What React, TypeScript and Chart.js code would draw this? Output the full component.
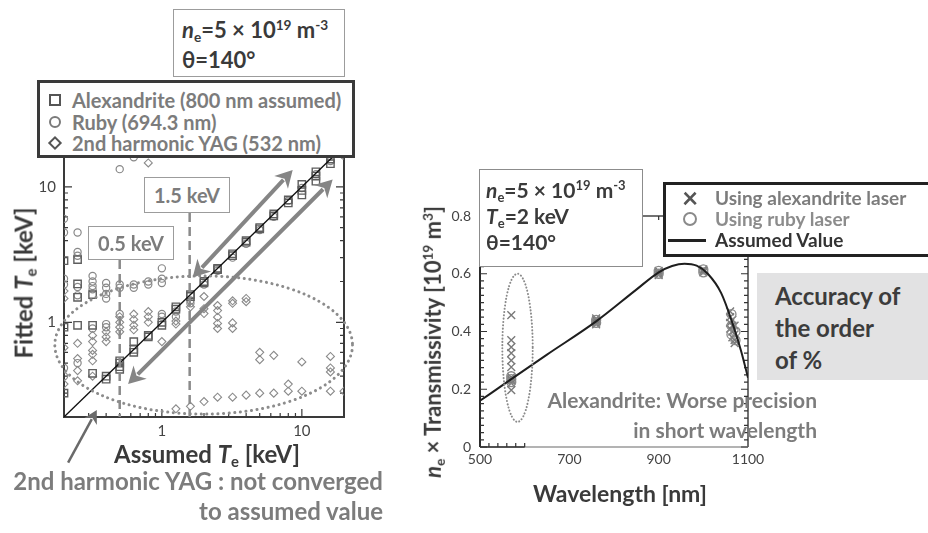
import React, { useEffect, useRef } from 'react';
import { Chart, registerables } from 'chart.js';
Chart.register(...registerables);

const FONT = 'Lato, "Open Sans", "DejaVu Sans", sans-serif';

// ---------------- Left chart data (Fitted Te vs Assumed Te) ----------------
const teTicks = [1, 10];
const identityLine = [0.2, 20];
const alexPoints: [number, number][] = [
  [0.2, 2.85], [0.2, 0.92], [0.2, 0.3],
  [0.25, 2.9], [0.25, 1.92], [0.25, 1.53], [0.25, 0.95],
  [0.32, 1.6], [0.32, 0.95], [0.32, 0.42],
  [0.4, 0.4], [0.4, 0.38],
  [0.5, 0.52], [0.5, 0.5], [0.5, 0.47], [0.5, 0.45],
  [0.63, 0.72], [0.63, 0.63], [0.63, 0.6],
  [0.8, 0.8], [0.8, 0.78],
  [1, 1.0], [1, 0.95],
  [1.26, 1.3], [1.26, 1.25],
  [1.6, 1.6], [1.6, 1.55],
  [2, 2.0], [2, 1.95],
  [2.5, 2.5], [2.5, 2.45],
  [3.2, 3.2], [3.2, 3.1],
  [4, 4.0], [4, 3.9],
  [5, 5.0], [5, 4.9],
  [6.3, 6.3], [6.3, 6.1],
  [8, 8.0], [8, 7.6],
  [10, 10.4], [10, 9.4], [10, 8.7],
  [12.6, 12.9], [12.6, 12.0], [12.6, 11.0],
  [16, 16.0], [16, 14.8],
];
const rubyPoints: [number, number][] = [
  [0.2, 5.8], [0.2, 4.6], [0.2, 2.1], [0.2, 1.9], [0.2, 0.46], [0.2, 0.4],
  [0.25, 4.6], [0.25, 3.3], [0.25, 3.1], [0.25, 1.82], [0.25, 1.58], [0.25, 0.5],
  [0.32, 2.2], [0.32, 2.0], [0.32, 1.85], [0.32, 1.75], [0.32, 0.9],
  [0.4, 1.95], [0.4, 1.8], [0.4, 1.62], [0.4, 1.5], [0.4, 0.97], [0.4, 0.92],
  [0.5, 1.9], [0.5, 1.8], [0.5, 1.15], [0.5, 13.5],
  [0.63, 1.9], [0.63, 1.8], [0.63, 16.5],
  [0.8, 2.0], [0.8, 1.9],
  [1, 2.5], [1, 2.1], [1, 1.95], [1, 1.15], [1, 1.1],
  [1.26, 1.2], [1.26, 1.1],
  [1.6, 1.45], [1.6, 1.38],
  [2, 1.9], [2.5, 2.4], [3.2, 3.0], [4, 3.8], [5, 4.8], [6.3, 6.0],
  [8, 7.9], [10, 9.8], [12.6, 12.4], [16, 15.5], [20, 17],
];
const yagPoints: [number, number][] = [
  [0.2, 1.7], [0.2, 1.5], [0.2, 0.65], [0.2, 0.35],
  [0.25, 0.7], [0.25, 0.54], [0.25, 0.44], [0.25, 0.37],
  [0.32, 0.8], [0.32, 0.72], [0.32, 0.62], [0.32, 0.58], [0.32, 0.52], [0.32, 0.4],
  [0.4, 0.85], [0.4, 0.78], [0.4, 0.72],
  [0.5, 1.1], [0.5, 1.0], [0.5, 0.92], [0.5, 0.85],
  [0.63, 1.15], [0.63, 1.05], [0.63, 0.95], [0.63, 0.88],
  [0.8, 1.2], [0.8, 1.1], [0.8, 1.0], [0.8, 15],
  [1, 0.72],
  [1.26, 1.02], [1.26, 0.97], [1.26, 0.23],
  [1.6, 1.3], [1.6, 0.24],
  [2, 1.55], [2, 1.26], [2, 1.16], [2, 0.26],
  [2.5, 1.33], [2.5, 1.22], [2.5, 1.09], [2.5, 0.98], [2.5, 0.9], [2.5, 0.28],
  [3.2, 1.44], [3.2, 1.38], [3.2, 0.99], [3.2, 0.9], [3.2, 0.28],
  [4, 1.5], [4, 1.42], [4, 0.29],
  [5, 0.6], [5, 0.53], [5, 0.3],
  [6.3, 0.57], [6.3, 0.3],
  [8, 0.35], [8, 0.31],
  [10, 0.51], [10, 0.31],
  [16, 0.56], [16, 0.46], [16, 0.43], [16, 0.31],
  [20, 0.31],
];
const markerLines = [0.5, 1.58];
const arrowUpper: [number, number, number, number] = [1.66, 2.14, 8.6, 13.3];
const arrowLower: [number, number, number, number] = [0.574, 0.35, 16.6, 11.3];
const ellipseLeft: [number, number, number, number] = [0.172, 23, 0.21, 2.2];
const noteArrow: [number, number, number, number] = [0.214, 0.092, 0.343, 0.225];

// ---------------- Right chart data (ne x Transmissivity vs wavelength) ----------------
const wlTicks = [500, 700, 900, 1100];
const assumedWl = [500, 570, 650, 760, 850, 900, 930, 958, 985, 1010, 1040, 1065, 1085, 1100];
const assumedVal = [0.16, 0.235, 0.32, 0.435, 0.545, 0.605, 0.627, 0.635, 0.628, 0.6, 0.533, 0.43, 0.33, 0.24];
const alexWl = [570, 570, 570, 570, 570, 570, 570, 570, 570, 570, 570,
  760, 760, 760, 760, 760, 900, 900, 900, 900, 1000, 1000, 1000,
  1060, 1060, 1060, 1060, 1065, 1065, 1065, 1065, 1070, 1070, 1070, 1070];
const alexVal = [0.457, 0.37, 0.346, 0.325, 0.3, 0.277, 0.242, 0.235, 0.23, 0.221, 0.197,
  0.44, 0.435, 0.43, 0.445, 0.425, 0.61, 0.6, 0.605, 0.595, 0.615, 0.61, 0.605,
  0.47, 0.45, 0.43, 0.41, 0.44, 0.42, 0.4, 0.38, 0.42, 0.39, 0.37, 0.36];
const rubyWl = [570, 570, 570, 760, 760, 900, 900, 1000, 1000, 1063, 1063, 1063, 1072, 1072];
const rubyVal = [0.245, 0.235, 0.225, 0.44, 0.43, 0.61, 0.6, 0.615, 0.605, 0.46, 0.42, 0.39, 0.4, 0.37];
const ellipseRight: [number, number, number, number] = [550, 618, 0.087, 0.6];

// ---------------- helpers ----------------
function drawArrow(ctx: CanvasRenderingContext2D, x1: number, y1: number, x2: number, y2: number,
  lw: number, head: number, color: string, both: boolean) {
  const ang = Math.atan2(y2 - y1, x2 - x1);
  const hw = head * 0.55;
  ctx.save();
  ctx.strokeStyle = color; ctx.fillStyle = color; ctx.lineWidth = lw; ctx.setLineDash([]);
  const sx = both ? x1 + Math.cos(ang) * head * 0.8 : x1;
  const sy = both ? y1 + Math.sin(ang) * head * 0.8 : y1;
  const ex = x2 - Math.cos(ang) * head * 0.8;
  const ey = y2 - Math.sin(ang) * head * 0.8;
  ctx.beginPath(); ctx.moveTo(sx, sy); ctx.lineTo(ex, ey); ctx.stroke();
  const tri = (tx: number, ty: number, a: number) => {
    ctx.beginPath();
    ctx.moveTo(tx, ty);
    ctx.lineTo(tx - Math.cos(a) * head + Math.sin(a) * hw, ty - Math.sin(a) * head - Math.cos(a) * hw);
    ctx.lineTo(tx - Math.cos(a) * head * 0.7, ty - Math.sin(a) * head * 0.7);
    ctx.lineTo(tx - Math.cos(a) * head - Math.sin(a) * hw, ty - Math.sin(a) * head + Math.cos(a) * hw);
    ctx.closePath(); ctx.fill();
  };
  tri(x2, y2, ang);
  if (both) tri(x1, y1, ang + Math.PI);
  ctx.restore();
}

function drawEllipse(ctx: CanvasRenderingContext2D, xa: number, xb: number, ya: number, yb: number,
  lw: number, gap: number, color: string) {
  ctx.save();
  ctx.strokeStyle = color; ctx.lineWidth = lw; ctx.lineCap = 'round';
  ctx.setLineDash([0.1, gap]);
  ctx.beginPath();
  ctx.ellipse((xa + xb) / 2, (ya + yb) / 2, Math.abs(xb - xa) / 2, Math.abs(yb - ya) / 2, 0, 0, Math.PI * 2);
  ctx.stroke();
  ctx.restore();
}

const logMinor = [0.2, 0.3, 0.4, 0.5, 0.6, 0.7, 0.8, 0.9, 1, 2, 3, 4, 5, 6, 7, 8, 9, 10, 20];

const BOX05_BOTTOM = 260;
const BOX15_BOTTOM = 213;

const leftDecor = {
  id: 'leftDecor',
  beforeDatasetsDraw(chart: any) {
    const { ctx, chartArea: a, scales: { x, y } } = chart;
    ctx.save();
    ctx.strokeStyle = '#3a3a3a';
    ctx.lineWidth = 2;
    ctx.beginPath();
    ctx.moveTo(a.left, a.top); ctx.lineTo(a.left, a.bottom); ctx.lineTo(a.right, a.bottom); ctx.lineTo(a.right, a.top);
    ctx.stroke();
    ctx.lineWidth = 1.2;
    for (const v of logMinor) {
      const major = v === 1 || v === 10;
      const L = major ? 8 : 4;
      const px = x.getPixelForValue(v);
      const py = y.getPixelForValue(v);
      ctx.beginPath();
      ctx.moveTo(px, a.bottom); ctx.lineTo(px, a.bottom - L);
      ctx.moveTo(a.left, py); ctx.lineTo(a.left + L, py);
      ctx.moveTo(a.right, py); ctx.lineTo(a.right - L, py);
      ctx.stroke();
    }
    ctx.restore();
  },
  afterDatasetsDraw(chart: any) {
    const { ctx, chartArea: a, scales: { x, y } } = chart;
    ctx.save();
    ctx.strokeStyle = '#8a8a8a'; ctx.lineWidth = 2.5; ctx.setLineDash([9, 5]);
    const tops = [BOX05_BOTTOM, BOX15_BOTTOM];
    markerLines.forEach((v, i) => {
      const px = x.getPixelForValue(v);
      ctx.beginPath(); ctx.moveTo(px, tops[i]); ctx.lineTo(px, a.bottom); ctx.stroke();
    });
    ctx.restore();
    drawEllipse(ctx, x.getPixelForValue(ellipseLeft[0]), x.getPixelForValue(ellipseLeft[1]),
      y.getPixelForValue(ellipseLeft[2]), y.getPixelForValue(ellipseLeft[3]), 3, 5.5, '#8c8c8c');
    for (const ar of [arrowUpper, arrowLower]) {
      drawArrow(ctx, x.getPixelForValue(ar[0]), y.getPixelForValue(ar[1]),
        x.getPixelForValue(ar[2]), y.getPixelForValue(ar[3]), 4, 17, '#858585', true);
    }
    drawArrow(ctx, x.getPixelForValue(noteArrow[0]), y.getPixelForValue(noteArrow[1]),
      x.getPixelForValue(noteArrow[2]), y.getPixelForValue(noteArrow[3]), 2.5, 13, '#6a6a6a', false);
  },
};

const rightDecor = {
  id: 'rightDecor',
  beforeDatasetsDraw(chart: any) {
    const { ctx, chartArea: a, scales: { x, y } } = chart;
    ctx.save();
    ctx.strokeStyle = '#2a2a2a'; ctx.lineWidth = 2;
    ctx.beginPath(); ctx.moveTo(a.left, a.top); ctx.lineTo(a.left, a.bottom); ctx.stroke();
    ctx.lineWidth = 1.5; ctx.strokeStyle = '#444';
    ctx.beginPath(); ctx.moveTo(a.left, a.top); ctx.lineTo(a.right, a.top); ctx.lineTo(a.right, a.bottom); ctx.stroke();
    ctx.strokeStyle = '#9a9a9a';
    ctx.beginPath(); ctx.moveTo(a.left, a.bottom); ctx.lineTo(a.right, a.bottom); ctx.stroke();
    ctx.strokeStyle = '#333'; ctx.lineWidth = 1.5;
    ctx.beginPath(); ctx.moveTo(a.left, a.bottom); ctx.lineTo(x.getPixelForValue(600), a.bottom); ctx.stroke();
    ctx.lineWidth = 1.2; ctx.strokeStyle = '#333';
    for (let i = 0; i <= 32; i++) {
      const v = i * 0.025;
      const L = i % 8 === 0 ? 7 : 4;
      const py = y.getPixelForValue(v);
      ctx.beginPath();
      ctx.moveTo(a.left, py); ctx.lineTo(a.left + L, py);
      ctx.moveTo(a.right, py); ctx.lineTo(a.right - L, py);
      ctx.stroke();
    }
    for (let w = 500; w <= 600; w += 20) {
      const px = x.getPixelForValue(w);
      ctx.beginPath(); ctx.moveTo(px, a.bottom); ctx.lineTo(px, a.bottom - 4);
      ctx.moveTo(px, a.top); ctx.lineTo(px, a.top + 4); ctx.stroke();
    }
    for (let w = 900; w <= 1100; w += 20) {
      const px = x.getPixelForValue(w);
      ctx.beginPath(); ctx.moveTo(px, a.top); ctx.lineTo(px, a.top + 4); ctx.stroke();
    }
    ctx.restore();
  },
  afterDatasetsDraw(chart: any) {
    const { ctx, scales: { x, y } } = chart;
    drawEllipse(ctx, x.getPixelForValue(ellipseRight[0]), x.getPixelForValue(ellipseRight[1]),
      y.getPixelForValue(ellipseRight[2]), y.getPixelForValue(ellipseRight[3]), 2, 3.2, '#8a8a8a');
  },
};

function leftConfig(): any {
  return {
    type: 'scatter',
    data: {
      datasets: [
        { label: 'Assumed', data: identityLine.map(v => ({ x: v, y: v })), showLine: true, borderColor: '#111', borderWidth: 1.3, pointRadius: 0 },
        { label: 'Alexandrite (800 nm assumed)', data: alexPoints.map(([x, y]) => ({ x, y })), pointStyle: 'rect', pointRadius: 5.2, borderColor: '#5e5e5e', borderWidth: 1.4, backgroundColor: 'rgba(255,255,255,0)' },
        { label: 'Ruby (694.3 nm)', data: rubyPoints.map(([x, y]) => ({ x, y })), pointStyle: 'circle', pointRadius: 3.6, borderColor: '#888', borderWidth: 1.2, backgroundColor: 'rgba(255,255,255,0)' },
        { label: '2nd harmonic YAG (532 nm)', data: yagPoints.map(([x, y]) => ({ x, y })), pointStyle: 'rectRot', pointRadius: 4, borderColor: '#8a8a8a', borderWidth: 1.1, backgroundColor: 'rgba(255,255,255,0)' },
      ],
    },
    options: {
      responsive: false, animation: false, devicePixelRatio: 1,
      layout: { padding: { left: 0, top: 146, right: 928 - 344, bottom: 533 - 417 - 30 } },
      plugins: { legend: { display: false }, tooltip: { enabled: false } },
      scales: {
        x: {
          type: 'logarithmic', min: 0.2, max: 20,
          grid: { display: false, drawTicks: false }, border: { display: false },
          afterBuildTicks: (s: any) => { s.ticks = teTicks.map(v => ({ value: v })); },
          afterFit: (s: any) => { s.height = 30; },
          ticks: { font: { family: FONT, size: 15 }, color: '#444', padding: 5, maxRotation: 0, autoSkip: false, callback: (v: any) => String(v) },
        },
        y: {
          type: 'logarithmic', min: 0.2, max: 20,
          grid: { display: false, drawTicks: false }, border: { display: false },
          afterBuildTicks: (s: any) => { s.ticks = teTicks.map(v => ({ value: v })); },
          afterFit: (s: any) => { s.width = 64; },
          ticks: { font: { family: FONT, size: 15 }, color: '#444', padding: 8, autoSkip: false, callback: (v: any) => String(v) },
        },
      },
    },
    plugins: [leftDecor],
  };
}

function rightConfig(): any {
  return {
    type: 'scatter',
    data: {
      datasets: [
        { label: 'Assumed Value', data: assumedWl.map((w, i) => ({ x: w, y: assumedVal[i] })), showLine: true, borderColor: '#1e1e1e', borderWidth: 2, pointRadius: 0, cubicInterpolationMode: 'monotone' },
        { label: 'Using ruby laser', data: rubyWl.map((w, i) => ({ x: w, y: rubyVal[i] })), pointStyle: 'circle', pointRadius: 4.5, borderColor: '#888', borderWidth: 1.3, backgroundColor: 'rgba(255,255,255,0)' },
        { label: 'Using alexandrite laser', data: alexWl.map((w, i) => ({ x: w, y: alexVal[i] })), pointStyle: 'crossRot', pointRadius: 5.5, borderColor: '#7a7a7a', borderWidth: 1.4 },
      ],
    },
    options: {
      responsive: false, animation: false, devicePixelRatio: 1,
      layout: { padding: { left: 0, top: 216, right: 928 - 748, bottom: 533 - 447 - 30 } },
      plugins: { legend: { display: false }, tooltip: { enabled: false } },
      scales: {
        x: {
          type: 'linear', min: 500, max: 1100,
          grid: { display: false, drawTicks: false }, border: { display: false },
          afterBuildTicks: (s: any) => { s.ticks = wlTicks.map(v => ({ value: v })); },
          afterFit: (s: any) => { s.height = 30; },
          ticks: { font: { family: FONT, size: 14 }, color: '#444', padding: 4, maxRotation: 0, autoSkip: false, callback: (v: any) => String(v) },
        },
        y: {
          type: 'linear', min: 0, max: 0.8,
          grid: { display: false, drawTicks: false }, border: { display: false },
          afterFit: (s: any) => { s.width = 480; },
          ticks: { stepSize: 0.2, font: { family: FONT, size: 14 }, color: '#444', padding: 9 },
        },
      },
    },
    plugins: [rightDecor],
  };
}

// ---------------- overlay text ----------------
const sub = (t: string) => <span style={{ fontSize: '0.62em', verticalAlign: '-0.28em', lineHeight: 0 }}>{t}</span>;
const sup = (t: string) => <span style={{ fontSize: '0.62em', verticalAlign: '0.62em', lineHeight: 0 }}>{t}</span>;

function Txt(props: { x: number; cy: number; size: number; color: string; align?: 'left' | 'right' | 'center'; children: any }) {
  const { x, cy, size, color, align = 'left', children } = props;
  const st: any = { position: 'absolute', top: cy - size * 0.62, fontSize: size, lineHeight: `${size * 1.24}px`, color, fontWeight: 700, whiteSpace: 'nowrap' };
  if (align === 'right') st.right = 928 - x;
  else if (align === 'center') { st.left = x; st.transform = 'translateX(-50%)'; }
  else st.left = x;
  return <div style={st}>{children}</div>;
}

function Box(props: { l: number; t: number; w: number; h: number; border: string; bg?: string }) {
  return <div style={{ position: 'absolute', left: props.l, top: props.t, width: props.w, height: props.h, border: props.border, background: props.bg ?? '#fff', boxSizing: 'border-box' }} />;
}

function VTitle(props: { cx: number; cy: number; size: number; children: any }) {
  return <div style={{ position: 'absolute', left: props.cx, top: props.cy, transform: 'translate(-50%,-50%) rotate(-90deg)', fontSize: props.size, fontWeight: 700, color: '#3a3a3a', whiteSpace: 'nowrap', lineHeight: 1.2 }}>{props.children}</div>;
}

export default function App() {
  const leftRef = useRef<HTMLCanvasElement>(null);
  const rightRef = useRef<HTMLCanvasElement>(null);
  useEffect(() => {
    const c1 = new Chart(leftRef.current as HTMLCanvasElement, leftConfig());
    const c2 = new Chart(rightRef.current as HTMLCanvasElement, rightConfig());
    return () => { c1.destroy(); c2.destroy(); };
  }, []);
  const dark = '#3a3a3a';
  const gray = '#7c7c7c';
  return (
    <div style={{ position: 'fixed', left: 0, top: 0, width: 928, height: 533, background: '#fff', overflow: 'hidden', fontFamily: FONT }}>
      <canvas ref={leftRef} width={928} height={533} style={{ position: 'absolute', left: 0, top: 0 }} />
      <canvas ref={rightRef} width={928} height={533} style={{ position: 'absolute', left: 0, top: 0 }} />

      {/* ---- left panel overlays ---- */}
      <Box l={173} t={9} w={172} h={68} border="1.5px solid #9c9c9c" />
      <Txt x={182} cy={30} size={22} color={dark}><i>n</i>{sub('e')}=5 × 10{sup('19')} m{sup('-3')}</Txt>
      <Txt x={182} cy={60} size={22} color={dark}>θ=140°</Txt>

      <Box l={37} t={80} w={318} h={78} border="3px solid #3a3a3a" />
      <div style={{ position: 'absolute', left: 49, top: 94, width: 12, height: 12, border: '2.5px solid #555', boxSizing: 'border-box' }} />
      <div style={{ position: 'absolute', left: 49, top: 116, width: 12, height: 12, border: '2px solid #7a7a7a', borderRadius: '50%', boxSizing: 'border-box' }} />
      <div style={{ position: 'absolute', left: 50, top: 138, width: 10, height: 10, border: '2px solid #555', boxSizing: 'border-box', transform: 'rotate(45deg)' }} />
      <Txt x={72} cy={100} size={20} color={gray}>Alexandrite (800 nm assumed)</Txt>
      <Txt x={72} cy={122} size={20} color={gray}>Ruby (694.3 nm)</Txt>
      <Txt x={72} cy={143} size={20} color={gray}>2nd harmonic YAG (532 nm)</Txt>

      <Box l={144} t={177} w={86} h={BOX15_BOTTOM - 177} border="1.5px solid #9c9c9c" />
      <Txt x={187} cy={195} size={20} color={gray} align="center">1.5 keV</Txt>
      <Box l={88} t={226} w={86} h={BOX05_BOTTOM - 226} border="1.5px solid #9c9c9c" />
      <Txt x={131} cy={243} size={20} color={gray} align="center">0.5 keV</Txt>

      <VTitle cx={24} cy={283} size={24}>Fitted <i>T</i>{sub('e')} [keV]</VTitle>
      <Txt x={207} cy={454} size={24} color={dark} align="center">Assumed <i>T</i>{sub('e')} [keV]</Txt>
      <Txt x={383} cy={481} size={24} color={gray} align="right">2nd harmonic YAG : not converged</Txt>
      <Txt x={383} cy={511} size={24} color={gray} align="right">to assumed value</Txt>

      {/* ---- right panel overlays ---- */}
      <Box l={479} t={169} w={164} h={98} border="1.5px solid #8c8c8c" />
      <Txt x={486} cy={190} size={21} color={dark}><i>n</i>{sub('e')}=5 × 10{sup('19')} m{sup('-3')}</Txt>
      <Txt x={486} cy={216} size={21} color={dark}><i>T</i>{sub('e')}=2 keV</Txt>
      <Txt x={486} cy={242} size={21} color={dark}>θ=140°</Txt>

      <Box l={663} t={182} w={280} h={75} border="3px solid #222" />
      <Txt x={690} cy={197} size={28} color="#555" align="center">×</Txt>
      <div style={{ position: 'absolute', left: 683, top: 212, width: 14, height: 14, border: '2px solid #8a8a8a', borderRadius: '50%', boxSizing: 'border-box' }} />
      <div style={{ position: 'absolute', left: 668, top: 239, width: 38, height: 3, background: '#222' }} />
      <Txt x={715} cy={198} size={19} color={gray}>Using alexandrite laser</Txt>
      <Txt x={715} cy={219} size={19} color="#8c8c8c">Using ruby laser</Txt>
      <Txt x={715} cy={240} size={19} color="#333">Assumed Value</Txt>

      <Box l={757} t={273} w={175} h={107} border="none" bg="#e2e2e3" />
      <Txt x={775} cy={296} size={24} color="#3c3c3c">Accuracy of</Txt>
      <Txt x={775} cy={328} size={24} color="#3c3c3c">the order</Txt>
      <Txt x={775} cy={360} size={24} color="#3c3c3c">of %</Txt>

      <Txt x={817} cy={400} size={21} color={gray} align="right">Alexandrite: Worse precision</Txt>
      <Txt x={817} cy={430} size={21} color={gray} align="right">in short wavelength</Txt>

      <VTitle cx={433} cy={342} size={22}><i>n</i>{sub('e')} × Transmissivity [10{sup('19')} m{sup('3')}]</VTitle>
      <Txt x={620} cy={493} size={23} color={dark} align="center">Wavelength [nm]</Txt>
    </div>
  );
}
